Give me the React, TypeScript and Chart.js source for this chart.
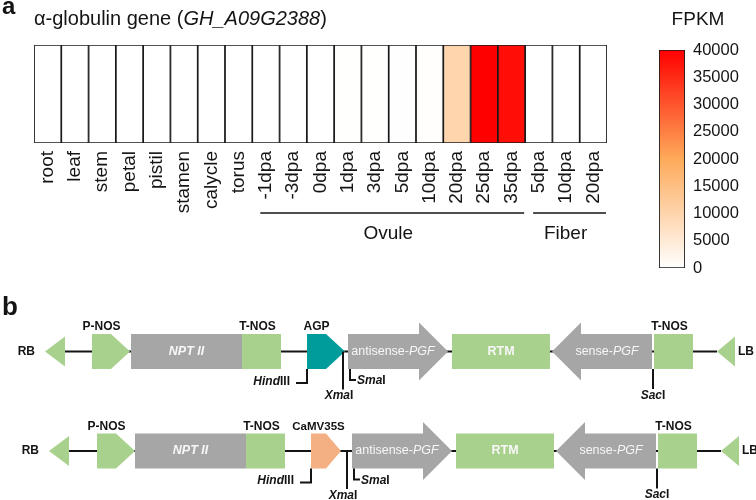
import React, { useEffect, useRef } from 'react';
import { Chart, registerables } from 'chart.js';

Chart.register(...registerables);

const FONT = '"Liberation Sans", Arial, Helvetica, sans-serif';

// ---------------- panel a data ----------------
const tissues = ['root', 'leaf', 'stem', 'petal', 'pistil', 'stamen', 'calycle', 'torus',
  '-1dpa', '-3dpa', '0dpa', '1dpa', '3dpa', '5dpa', '10dpa', '20dpa', '25dpa', '35dpa',
  '5dpa', '10dpa', '20dpa'];
const fpkm = [35, 20, 28, 15, 40, 22, 30, 45, 60, 55, 50, 70, 90, 120, 300, 10000, 40000, 38500, 25, 18, 12];
const groupNames = ['Ovule', 'Fiber'];
const groupFirst = [8, 18];
const groupLast = [17, 20];
const fpkmMin = 0;
const fpkmMax = 40000;
const fpkmStep = 5000;
const stopValues = [0, 20000, 40000];
const stopColors = ['#ffffff', '#fdaa5a', '#ff0000'];

// ---------------- panel b data ----------------
const construct1Names = ['RB', 'P-NOS', 'NPT II', 'T-NOS', 'AGP', 'antisense-PGF', 'RTM', 'sense-PGF', 'T-NOS', 'LB'];
const construct1Starts = [45, 92, 131, 242, 307, 348, 452, 552, 654, 717];
const construct1Ends = [65, 130, 242, 281, 345, 448, 550, 652, 693, 735];
const construct2Names = ['RB', 'P-NOS', 'NPT II', 'T-NOS', 'CaMV35S', 'antisense-PGF', 'RTM', 'sense-PGF', 'T-NOS', 'LB'];
const construct2Starts = [49, 97, 135, 246, 311, 352, 456, 556, 658, 721];
const construct2Ends = [69, 135, 246, 285, 341, 452, 554, 656, 697, 739];
const siteNames = ['HindIII', 'XmaI', 'SmaI', 'SacI'];
const construct1Sites = [307, 343, 350, 653];
const construct2Sites = [311, 347, 354, 657];
const trackRows = [61.5, 161];

// ---------------- styles ----------------
const GREEN = '#a9d18e';
const GRAY = '#a6a6a6';
const TEAL = '#009c9c';
const ORANGE = '#f4b083';
const INK = '#141414';

type PartStyle = { shape: string; fill: string; text: string; italic?: boolean; weight?: string };
const partStyle: Record<string, PartStyle> = {
  'RB': { shape: 'tri', fill: GREEN, text: 'left' },
  'LB': { shape: 'tri', fill: GREEN, text: 'right' },
  'P-NOS': { shape: 'pent', fill: GREEN, text: 'above' },
  'NPT II': { shape: 'box', fill: GRAY, text: 'inside', italic: true, weight: 'bold' },
  'T-NOS': { shape: 'box', fill: GREEN, text: 'above' },
  'AGP': { shape: 'pent', fill: TEAL, text: 'above' },
  'CaMV35S': { shape: 'pent', fill: ORANGE, text: 'above' },
  'antisense-PGF': { shape: 'arrowR', fill: GRAY, text: 'inside', weight: 'normal' },
  'RTM': { shape: 'box', fill: GREEN, text: 'inside', weight: 'bold' },
  'sense-PGF': { shape: 'arrowL', fill: GRAY, text: 'inside', weight: 'normal' },
};

type Seg = [string, boolean];

function drawRich(ctx: CanvasRenderingContext2D, segs: Seg[], x: number, y: number,
  align: string, size: number, weight: string, color: string, baseline: CanvasTextBaseline = 'middle') {
  ctx.save();
  ctx.fillStyle = color;
  ctx.textBaseline = baseline;
  ctx.textAlign = 'left';
  const fontFor = (it: boolean) => `${it ? 'italic ' : ''}${weight} ${size}px ${FONT}`;
  let total = 0;
  const widths = segs.map(([t, it]) => {
    ctx.font = fontFor(it);
    const w = ctx.measureText(t).width;
    total += w;
    return w;
  });
  let cx = align === 'left' ? x : align === 'center' ? x - total / 2 : x - total;
  segs.forEach(([t, it], i) => {
    ctx.font = fontFor(it);
    ctx.fillText(t, cx, y);
    cx += widths[i];
  });
  ctx.restore();
}

function hexToRgb(h: string) {
  const n = parseInt(h.slice(1), 16);
  return [(n >> 16) & 255, (n >> 8) & 255, n & 255];
}

function fpkmColor(v: number) {
  let i = 0;
  while (i < stopValues.length - 2 && v > stopValues[i + 1]) i++;
  const t = Math.max(0, Math.min(1, (v - stopValues[i]) / (stopValues[i + 1] - stopValues[i])));
  const a = hexToRgb(stopColors[i]);
  const b = hexToRgb(stopColors[i + 1]);
  const c = a.map((av, k) => Math.round(av + (b[k] - av) * t));
  return `rgb(${c[0]},${c[1]},${c[2]})`;
}

function siteSegs(name: string): Seg[] {
  const m = name.match(/^(.*?)(I+)$/);
  return m ? [[m[1], true], [m[2], false]] : [[name, false]];
}

function partSegs(name: string, italicAll?: boolean): Seg[] {
  if (italicAll) return [[name, true]];
  const k = name.indexOf('-PGF');
  if (k >= 0) return [[name.slice(0, k + 1), false], ['PGF', true]];
  return [[name, false]];
}

const heatDecor = {
  id: 'heatDecor',
  afterDraw(chart: any) {
    const ctx: CanvasRenderingContext2D = chart.ctx;
    const x = chart.scales.x;
    drawRich(ctx, [['a', false]], 2, 14, 'left', 24, 'bold', INK, 'alphabetic');
    drawRich(ctx, [['α-globulin gene (', false], ['GH_A09G2388', true], [')', false]],
      chart.chartArea.left, 24.5, 'left', 20, 'normal', INK, 'alphabetic');
    const half = (x.getPixelForValue(1) - x.getPixelForValue(0)) / 2;
    groupNames.forEach((g, i) => {
      const l = x.getPixelForValue(groupFirst[i]) - half + 8;
      const r = x.getPixelForValue(groupLast[i]) + half - 1;
      ctx.save();
      ctx.strokeStyle = INK;
      ctx.lineWidth = 1.5;
      ctx.beginPath();
      ctx.moveTo(l, 213);
      ctx.lineTo(r, 213);
      ctx.stroke();
      ctx.restore();
      drawRich(ctx, [[g, false]], (l + r) / 2 - 4, 234, 'center', 19, 'normal', INK);
    });
  },
};

const barDecor = {
  id: 'barDecor',
  afterDraw(chart: any) {
    const ca = chart.chartArea;
    drawRich(chart.ctx, [['FPKM', false]], (ca.left + ca.right) / 2 + 26, 20, 'center', 19, 'normal', INK);
  },
};

function drawPoly(ctx: CanvasRenderingContext2D, pts: number[][], fill: string) {
  ctx.beginPath();
  ctx.moveTo(pts[0][0], pts[0][1]);
  for (let i = 1; i < pts.length; i++) ctx.lineTo(pts[i][0], pts[i][1]);
  ctx.closePath();
  ctx.fillStyle = fill;
  ctx.fill();
}

function line(ctx: CanvasRenderingContext2D, pts: number[][]) {
  ctx.beginPath();
  ctx.moveTo(pts[0][0], pts[0][1]);
  for (let i = 1; i < pts.length; i++) ctx.lineTo(pts[i][0], pts[i][1]);
  ctx.stroke();
}

const mapDecor = {
  id: 'mapDecor',
  afterDraw(chart: any) {
    const ctx: CanvasRenderingContext2D = chart.ctx;
    const xs = chart.scales.x;
    const ys = chart.scales.y;
    const X = (v: number) => xs.getPixelForValue(v);
    drawRich(ctx, [['b', false]], 2, 25, 'left', 26, 'bold', INK, 'alphabetic');
    const constructs = [
      [construct1Names, construct1Starts, construct1Ends, construct1Sites],
      [construct2Names, construct2Starts, construct2Ends, construct2Sites],
    ] as [string[], number[], number[], number[]][];
    const H = 17.5;
    const HEAD = 29;
    constructs.forEach(([names, starts, ends, sites], r) => {
      const cy = ys.getPixelForValue(trackRows[r]);
      ctx.save();
      ctx.strokeStyle = INK;
      ctx.lineWidth = 2;
      line(ctx, [[X(ends[0]), cy], [X(starts[starts.length - 1]), cy]]);
      ctx.restore();
      names.forEach((name, i) => {
        const st = partStyle[name];
        const x0 = X(starts[i]);
        const x1 = X(ends[i]);
        let neck = x1;
        if (st.shape === 'tri') {
          drawPoly(ctx, [[x0, cy], [x1, cy - 15], [x1, cy + 15]], st.fill);
        } else if (st.shape === 'pent') {
          neck = x0 + (x1 - x0) / 2;
          drawPoly(ctx, [[x0, cy - H], [neck, cy - H], [x1, cy], [neck, cy + H], [x0, cy + H]], st.fill);
        } else if (st.shape === 'box') {
          ctx.fillStyle = st.fill;
          ctx.fillRect(x0, cy - H, x1 - x0, 2 * H);
        } else if (st.shape === 'arrowR') {
          const hb = x1 - HEAD;
          drawPoly(ctx, [[x0, cy - H], [hb, cy - H], [hb, cy - HEAD], [x1, cy], [hb, cy + HEAD], [hb, cy + H], [x0, cy + H]], st.fill);
        } else if (st.shape === 'arrowL') {
          const hb = x0 + HEAD;
          drawPoly(ctx, [[x1, cy - H], [hb, cy - H], [hb, cy - HEAD], [x0, cy], [hb, cy + HEAD], [hb, cy + H], [x1, cy + H]], st.fill);
        }
        if (st.text === 'left') {
          drawRich(ctx, [[name, false]], x0 - 10, cy, 'right', 12, 'bold', INK);
        } else if (st.text === 'right') {
          drawRich(ctx, [[name, false]], x1 + 3, cy, 'left', 12, 'bold', INK);
        } else if (st.text === 'above') {
          const cx = st.shape === 'pent' ? (x0 + neck) / 2 : (x0 + x1) / 2 - 4;
          const size = name.length > 6 ? 11.5 : 12;
          drawRich(ctx, [[name, false]], cx, cy - 24.5, 'center', size, 'bold', INK);
        } else if (st.text === 'inside') {
          const off = st.shape === 'arrowR' ? -5 : st.shape === 'arrowL' ? 5 : 0;
          drawRich(ctx, partSegs(name, st.italic), (x0 + x1) / 2 + off, cy, 'center', 12.5, st.weight || 'normal', '#f7f7f7');
        }
      });
      // restriction sites
      ctx.save();
      ctx.strokeStyle = INK;
      ctx.lineWidth = 2;
      siteNames.forEach((s, i) => {
        const sx = X(sites[i]);
        const segs = siteSegs(s);
        if (s === 'HindIII') {
          line(ctx, [[sx, cy + H], [sx, cy + H + 14], [sx - 11, cy + H + 14]]);
          drawRich(ctx, segs, sx - 17, cy + H + 12.5, 'right', 12, 'bold', INK);
        } else if (s === 'XmaI') {
          line(ctx, [[sx, cy], [sx, cy + 38]]);
          drawRich(ctx, segs, sx - 4, cy + 44.5, 'center', 12, 'bold', INK);
        } else if (s === 'SmaI') {
          line(ctx, [[sx, cy + H], [sx, cy + H + 11], [sx + 6, cy + H + 11]]);
          drawRich(ctx, segs, sx + 7, cy + H + 12, 'left', 12, 'bold', INK);
        } else {
          line(ctx, [[sx, cy + H], [sx, cy + H + 20]]);
          drawRich(ctx, segs, sx, cy + 44, 'center', 12, 'bold', INK);
        }
      });
      ctx.restore();
    });
  },
};

export default function App() {
  const heatRef = useRef<HTMLCanvasElement>(null);
  const barRef = useRef<HTMLCanvasElement>(null);
  const mapRef = useRef<HTMLCanvasElement>(null);

  useEffect(() => {
    const heat = new Chart(heatRef.current!, {
      type: 'bar',
      data: {
        labels: tissues,
        datasets: [{
          data: tissues.map(() => 1),
          backgroundColor: fpkm.map(fpkmColor),
          borderColor: '#1a1a1a',
          borderWidth: 1.2,
          borderSkipped: false,
          barPercentage: 1,
          categoryPercentage: 1,
        }],
      },
      options: {
        animation: false,
        responsive: false,
        maintainAspectRatio: false,
        layout: { padding: { left: 34, top: 45, right: 33, bottom: 7 } },
        plugins: { legend: { display: false }, tooltip: { enabled: false } },
        scales: {
          x: {
            grid: { display: false, drawTicks: false },
            border: { display: false },
            ticks: {
              autoSkip: false, minRotation: 90, maxRotation: 90, padding: 8,
              color: INK, font: { family: FONT, size: 19 },
            },
            afterFit: (s: any) => { s.height = 140; },
          },
          y: { display: false, min: 0, max: 1 },
        },
      },
      plugins: [heatDecor],
    } as any);

    const bar = new Chart(barRef.current!, {
      type: 'bar',
      data: {
        labels: ['FPKM'],
        datasets: [{
          data: [[fpkmMin, fpkmMax]],
          backgroundColor: (c: any) => {
            const ch = c.chart;
            if (!ch.chartArea) return '#fff';
            const y = ch.scales.y;
            const g = ch.ctx.createLinearGradient(0, y.getPixelForValue(fpkmMin), 0, y.getPixelForValue(fpkmMax));
            stopValues.forEach((v, i) => g.addColorStop((v - fpkmMin) / (fpkmMax - fpkmMin), stopColors[i]));
            return g;
          },
          borderColor: '#1a1a1a',
          borderWidth: 1.2,
          borderSkipped: false,
          barPercentage: 1,
          categoryPercentage: 1,
        }],
      },
      options: {
        animation: false,
        responsive: false,
        maintainAspectRatio: false,
        layout: { padding: { left: 19, top: 50, right: 11, bottom: 22 } },
        plugins: { legend: { display: false }, tooltip: { enabled: false } },
        scales: {
          x: { display: false },
          y: {
            position: 'right', min: fpkmMin, max: fpkmMax,
            grid: { display: false, drawTicks: false },
            border: { display: false },
            ticks: {
              stepSize: fpkmStep, padding: 8, color: INK,
              font: { family: FONT, size: 16.5 },
              callback: (v: any) => String(v),
            },
            afterFit: (s: any) => { s.width = 60; },
          },
        },
      },
      plugins: [barDecor],
    } as any);

    const map = new Chart(mapRef.current!, {
      type: 'scatter',
      data: { datasets: [] },
      options: {
        animation: false,
        responsive: false,
        maintainAspectRatio: false,
        layout: { padding: 0 },
        plugins: { legend: { display: false }, tooltip: { enabled: false } },
        scales: {
          x: { type: 'linear', display: false, min: 0, max: 756 },
          y: { type: 'linear', display: false, min: 0, max: 210, reverse: true },
        },
      },
      plugins: [mapDecor],
    } as any);

    return () => { heat.destroy(); bar.destroy(); map.destroy(); };
  }, []);

  return (
    <div style={{ position: 'fixed', left: 0, top: 0, width: 756, height: 500, background: '#fff', overflow: 'hidden' }}>
      <canvas ref={heatRef} width={640} height={290} style={{ position: 'absolute', left: 0, top: 0, width: 640, height: 290 }} />
      <canvas ref={barRef} width={116} height={290} style={{ position: 'absolute', left: 640, top: 0, width: 116, height: 290 }} />
      <canvas ref={mapRef} width={756} height={210} style={{ position: 'absolute', left: 0, top: 290, width: 756, height: 210 }} />
    </div>
  );
}
